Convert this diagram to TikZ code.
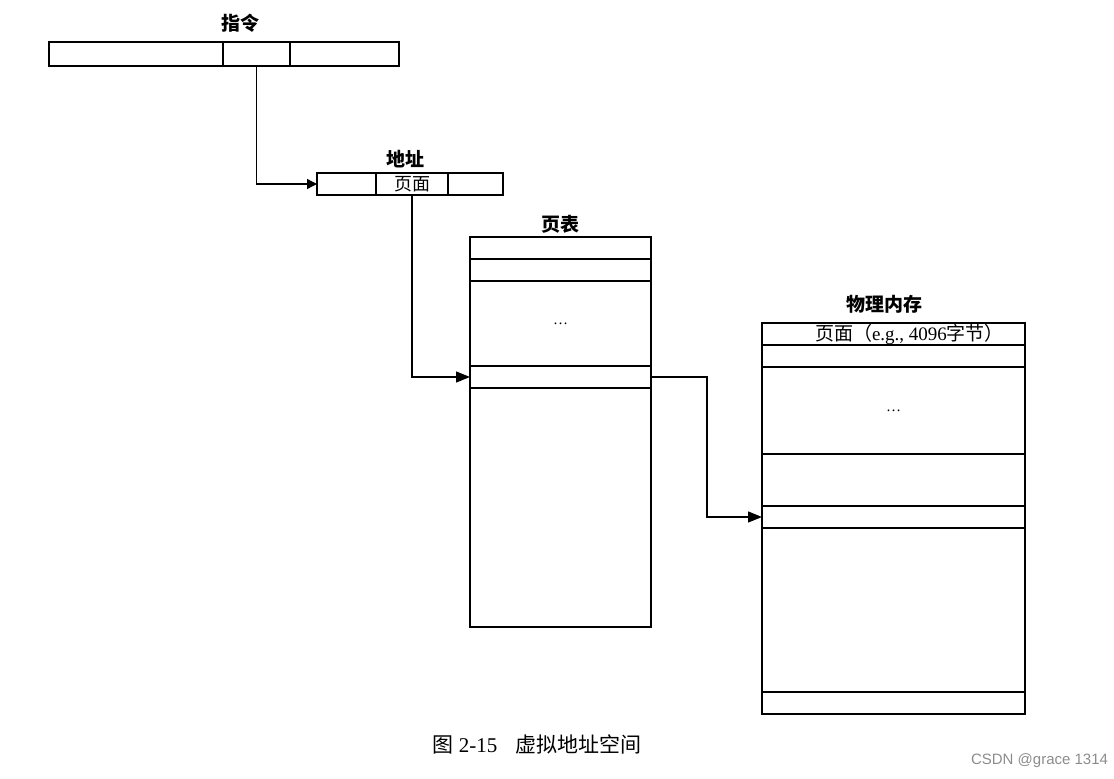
\documentclass[tikz,border=0pt]{standalone}
\usepackage{fontspec}
\setmainfont{Liberation Serif}
\setsansfont{Liberation Sans}
\newfontfamily\cjk{Noto Sans CJK SC}
\usetikzlibrary{arrows.meta, positioning}

\begin{document}
\begin{tikzpicture}[
  x=1pt, y=-1pt,
  line width=1.3pt,
  node distance=0pt,
  cell/.style={draw, inner sep=0pt, outer sep=0pt},
  barcell/.style={cell, minimum height=24pt, minimum width=#1},
  adcell/.style={cell, minimum height=22pt, minimum width=#1,
                 font=\cjk\fontsize{18}{20}\selectfont},
  ptrow/.style={cell, minimum width=181pt, minimum height=#1},
  pmrow/.style={cell, minimum width=263pt, minimum height=#1},
  lbl/.style={font=\cjk\bfseries\fontsize{19}{22}\selectfont},
  dotsf/.style={font=\fontsize{15}{17}\selectfont},
  arr/.style={line width=1.3pt, -{Triangle[length=14pt,width=11pt]}}
]
\useasboundingbox (0,0) rectangle (1114,779);

% instruction
\node[barcell=174pt, anchor=north west] (instA) at (49,42) {};
\node[barcell=67pt, right=of instA] (instB) {};
\node[barcell=109pt, right=of instB] (instC) {};
\node[lbl] (instL) at (240,23) {指令};

% address
\node[adcell=59pt, anchor=north west] (addrA) at (317,173) {};
\node[adcell=72pt, right=of addrA] (addrB) {页面};
\node[adcell=55pt, right=of addrB] (addrC) {};
\node[lbl] (addrL) at (405,159) {地址};

% page table
\node[ptrow=22pt, anchor=north west] (pt1) at (470,237) {};
\node[ptrow=22pt, below=of pt1] (pt2) {};
\node[ptrow=85pt, below=of pt2, dotsf] (pt3) {\dots};
\node[ptrow=22pt, below=of pt3] (pt4) {};
\node[ptrow=239pt, below=of pt4] (pt5) {};
\node[lbl] (ptL) at (560,224) {页表};

% physical memory
\node[pmrow=22pt, anchor=north west, font=\fontsize{19}{21}\selectfont]
  (pm1) at (762,323) {\hspace{32pt}{\cjk 页面（}e.g., 4096{\cjk 字节）}};
\node[pmrow=22pt, below=of pm1] (pm2) {};
\node[pmrow=87pt, below=of pm2, dotsf] (pm3) {\dots};
\node[pmrow=52pt, below=of pm3] (pm4) {};
\node[pmrow=22pt, below=of pm4] (pm5) {};
\node[pmrow=164pt, below=of pm5] (pm6) {};
\node[pmrow=22pt, below=of pm6] (pm7) {};
\node[lbl] (pmL) at (884,304) {物理内存};

\draw[arr, -{Triangle[length=10pt,width=10pt]}] (instB.south) |- (addrA.west);
\draw[arr] (addrB.south) |- (pt4.west);
\draw[arr] (pt4.east) -- ++(56,0) |- (pm5.west);

% caption
\node[font=\fontsize{21}{23}\selectfont] (cap) at (537,744)
  {{\cjk 图} 2-15\hspace{18pt}{\cjk 虚拟地址空间}};
\node[anchor=east, text=black!45, font=\sffamily\fontsize{15}{17}\selectfont]
  (wm) at (1112,761) {CSDN @grace 1314};
\end{tikzpicture}
\end{document}
